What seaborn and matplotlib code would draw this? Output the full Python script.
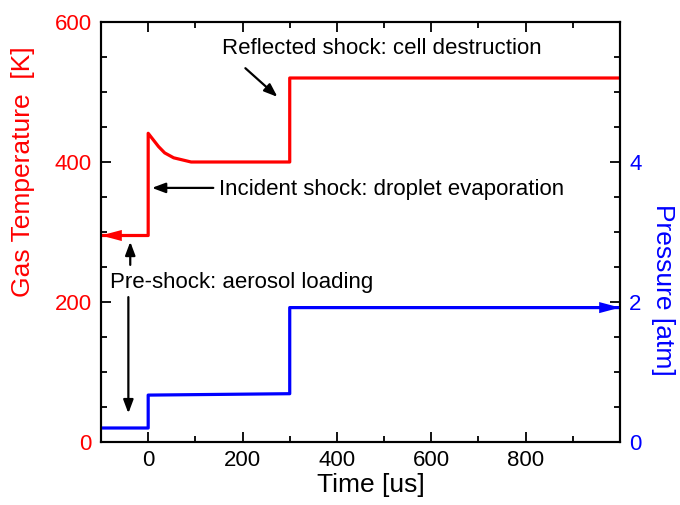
import matplotlib
matplotlib.use("Agg")
import matplotlib.pyplot as plt
import seaborn as sns
import pandas as pd
from matplotlib.ticker import FixedLocator, MultipleLocator

# ---- data ----
temp_time = [-100, 0, 0, 22, 35, 54, 91, 300, 300, 1000]
temp_vals = [295, 295, 441, 422, 413, 406, 400, 400, 520, 520]
pres_time = [-100, 0, 0, 300, 300, 1000]
pres_vals = [0.2, 0.2, 0.67, 0.69, 1.92, 1.92]
x_ticks = [0, 200, 400, 600, 800]
t_ticks = [0, 200, 400, 600]
p_ticks = [0, 2, 4]

sns.set_theme(style="ticks")
plt.rcParams['font.family'] = ['Liberation Sans', 'DejaVu Sans']

RED = "#ff0000"
BLUE = "#0000ff"

fig = plt.figure(figsize=(6.8, 5.05), dpi=100)
ax = fig.add_axes([101/680, 1-442/505, (620-101)/680, (442-22)/505])
ax2 = ax.twinx()

df_t = pd.DataFrame({"time": temp_time, "temp": temp_vals})
df_p = pd.DataFrame({"time": pres_time, "pres": pres_vals})
sns.lineplot(data=df_t, x="time", y="temp", ax=ax, color=RED, lw=2.3,
             sort=False, estimator=None)
sns.lineplot(data=df_p, x="time", y="pres", ax=ax2, color=BLUE, lw=2.3,
             sort=False, estimator=None)

ax.set_xlim(-100, 1000)
ax.set_ylim(0, 600)
ax2.set_ylim(0, 6)

# arrowheads at line ends
ax.annotate("", xy=(temp_time[0], temp_vals[0]), xytext=(temp_time[0] + 45, temp_vals[0]),
            arrowprops=dict(arrowstyle="-|>,head_length=0.75,head_width=0.2",
                            mutation_scale=20, color=RED, lw=0, shrinkA=0, shrinkB=0))
ax2.annotate("", xy=(pres_time[-1], pres_vals[-1]), xytext=(pres_time[-1] - 45, pres_vals[-1]),
             arrowprops=dict(arrowstyle="-|>,head_length=0.75,head_width=0.2",
                             mutation_scale=20, color=BLUE, lw=0, shrinkA=0, shrinkB=0))

# axes styling
for a in (ax, ax2):
    for s in a.spines.values():
        s.set_linewidth(1.5)
        s.set_color("black")
ax.xaxis.set_major_locator(FixedLocator(x_ticks))
ax.xaxis.set_minor_locator(MultipleLocator(100))
ax.yaxis.set_major_locator(FixedLocator(t_ticks))
ax.yaxis.set_minor_locator(MultipleLocator(50))
ax2.yaxis.set_major_locator(FixedLocator(p_ticks))
ax2.yaxis.set_minor_locator(MultipleLocator(0.5))

ax.tick_params(axis="x", which="both", direction="in", top=True, bottom=True,
               labelsize=16, labelcolor="black", pad=6)
ax.tick_params(axis="y", which="both", direction="in", left=True, right=False,
               labelsize=16, labelcolor=RED, pad=6.5)
ax2.tick_params(axis="y", which="both", direction="in", right=True, left=False,
                labelsize=16, labelcolor=BLUE, pad=6.5)
for a in (ax, ax2):
    a.tick_params(which="major", length=7, width=1.3, color="black")
    a.tick_params(which="minor", length=4, width=1.3, color="black")

ax.set_xlabel("Time [us]", fontsize=19, color="black", labelpad=1)
ax.xaxis.label.set_x((371 - 101) / 519)
ax.set_ylabel("Gas Temperature  [K]", fontsize=19, color=RED, labelpad=14)
ax.yaxis.label.set_y((442 - 172) / 420)
ax2.set_ylabel("Pressure [atm]", fontsize=19, color=BLUE, rotation=270,
               labelpad=24)
ax2.yaxis.label.set_y((442 - 290) / 420)

# annotations
arrow_kw = dict(arrowstyle="-|>,head_length=0.8,head_width=0.3", mutation_scale=10,
                color="black", lw=1.6, shrinkA=0, shrinkB=0)
ax.text(157, 554, "Reflected shock: cell destruction", fontsize=16, color="black",
        va="baseline", ha="left")
ax.annotate("", xy=(274, 493), xytext=(206, 534), arrowprops=arrow_kw)

ax.text(151, 353, "Incident shock: droplet evaporation", fontsize=16, color="black",
        va="baseline", ha="left")
ax.annotate("", xy=(8, 363), xytext=(138, 363), arrowprops=arrow_kw)

ax.text(-81, 220, "Pre-shock: aerosol loading", fontsize=16, color="black",
        va="baseline", ha="left")
ax.annotate("", xy=(-38, 286), xytext=(-38, 253), arrowprops=arrow_kw)
ax.annotate("", xy=(-42, 41), xytext=(-42, 207), arrowprops=arrow_kw)

fig.savefig("out.png", dpi=100)
